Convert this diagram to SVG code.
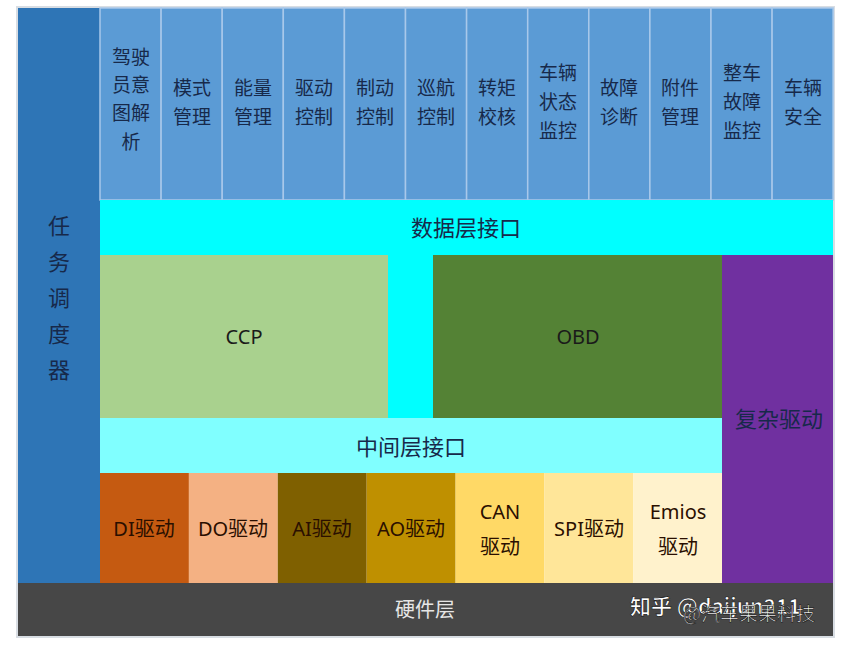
<svg xmlns="http://www.w3.org/2000/svg" width="853" height="645" viewBox="0 0 853 645">
<style>
.t{font-family:"Noto Sans","Noto Sans CJK SC",sans-serif;text-anchor:middle;dominant-baseline:central}
.top{font-size:19px;fill:#17294a}
.big{font-size:22px;fill:#17294a}
.mid{font-size:20px;fill:#1a1a1a}
.drv{font-size:20px;fill:#2a0f00}
.cell{stroke:#a8c8ea;stroke-width:1.5}
.wm{font-family:"Noto Sans CJK SC",sans-serif;fill:#ffffff;stroke:#1a1a1a;stroke-width:0.7;font-weight:bold}
</style>
<rect x="0" y="0" width="853" height="645" fill="#ffffff"/>
<rect x="17" y="7" width="817" height="630" fill="none" stroke="#d8dde3" stroke-width="2"/>
<g id="scheduler">
<rect x="18" y="8" width="82" height="575" fill="#2e75b6"/>
<text class="t big" x="59" y="225">任</text>
<text class="t big" x="59" y="261">务</text>
<text class="t big" x="59" y="297">调</text>
<text class="t big" x="59" y="333">度</text>
<text class="t big" x="59" y="369">器</text>
</g>
<g id="apps">
<g id="app1"><rect class="cell" x="100" y="8" width="61.1" height="192" fill="#5b9bd5"/>
<text class="t top" x="131" y="57">驾驶</text><text class="t top" x="131" y="85">员意</text><text class="t top" x="131" y="113">图解</text><text class="t top" x="131" y="142">析</text></g>
<g id="app2"><rect class="cell" x="161.1" y="8" width="61.1" height="192" fill="#5b9bd5"/>
<text class="t top" x="192" y="88">模式</text><text class="t top" x="192" y="117">管理</text></g>
<g id="app3"><rect class="cell" x="222.2" y="8" width="61.1" height="192" fill="#5b9bd5"/>
<text class="t top" x="253" y="88">能量</text><text class="t top" x="253" y="117">管理</text></g>
<g id="app4"><rect class="cell" x="283.3" y="8" width="61.1" height="192" fill="#5b9bd5"/>
<text class="t top" x="314" y="88">驱动</text><text class="t top" x="314" y="117">控制</text></g>
<g id="app5"><rect class="cell" x="344.4" y="8" width="61.1" height="192" fill="#5b9bd5"/>
<text class="t top" x="375" y="88">制动</text><text class="t top" x="375" y="117">控制</text></g>
<g id="app6"><rect class="cell" x="405.5" y="8" width="61.1" height="192" fill="#5b9bd5"/>
<text class="t top" x="436" y="88">巡航</text><text class="t top" x="436" y="117">控制</text></g>
<g id="app7"><rect class="cell" x="466.6" y="8" width="61.1" height="192" fill="#5b9bd5"/>
<text class="t top" x="497" y="88">转矩</text><text class="t top" x="497" y="117">校核</text></g>
<g id="app8"><rect class="cell" x="527.7" y="8" width="61.1" height="192" fill="#5b9bd5"/>
<text class="t top" x="558" y="73">车辆</text><text class="t top" x="558" y="102">状态</text><text class="t top" x="558" y="131">监控</text></g>
<g id="app9"><rect class="cell" x="588.8" y="8" width="61.1" height="192" fill="#5b9bd5"/>
<text class="t top" x="619" y="88">故障</text><text class="t top" x="619" y="117">诊断</text></g>
<g id="app10"><rect class="cell" x="649.9" y="8" width="61.1" height="192" fill="#5b9bd5"/>
<text class="t top" x="680" y="88">附件</text><text class="t top" x="680" y="117">管理</text></g>
<g id="app11"><rect class="cell" x="711" y="8" width="61.1" height="192" fill="#5b9bd5"/>
<text class="t top" x="742" y="73">整车</text><text class="t top" x="742" y="102">故障</text><text class="t top" x="742" y="131">监控</text></g>
<g id="app12"><rect class="cell" x="772.1" y="8" width="61" height="192" fill="#5b9bd5"/>
<text class="t top" x="803" y="88">车辆</text><text class="t top" x="803" y="117">安全</text></g>
</g>
<g id="data-interface">
<rect x="100" y="200" width="733" height="55" fill="#00ffff"/>
<rect x="388" y="255" width="45" height="163" fill="#00ffff"/>
<text class="t big" x="466" y="227">数据层接口</text>
</g>
<g id="ccp">
<rect x="100" y="255" width="288" height="163" fill="#a9d18e"/>
<text class="t mid" x="244" y="336">CCP</text>
</g>
<g id="obd">
<rect x="433" y="255" width="289" height="163" fill="#548235"/>
<text class="t mid" x="578" y="336">OBD</text>
</g>
<g id="complex-driver">
<rect x="722" y="255" width="111" height="328" fill="#7030a0"/>
<text class="t big" x="779" y="418">复杂驱动</text>
</g>
<g id="middle-interface">
<rect x="100" y="418" width="622" height="55" fill="#80ffff"/>
<text class="t big" x="411" y="446">中间层接口</text>
</g>
<g id="drivers">
<g id="di"><rect x="100" y="473" width="88.9" height="110" fill="#c55a11"/><text class="t drv" x="144" y="528">DI驱动</text></g>
<g id="do"><rect x="188.9" y="473" width="88.9" height="110" fill="#f4b183"/><text class="t drv" x="233" y="528">DO驱动</text></g>
<g id="ai"><rect x="277.8" y="473" width="88.9" height="110" fill="#7f6000"/><text class="t drv" x="322" y="528">AI驱动</text></g>
<g id="ao"><rect x="366.7" y="473" width="88.9" height="110" fill="#bf9000"/><text class="t drv" x="411" y="528">AO驱动</text></g>
<g id="can"><rect x="455.6" y="473" width="88.9" height="110" fill="#ffd966"/><text class="t drv" x="500" y="511">CAN</text><text class="t drv" x="500" y="546">驱动</text></g>
<g id="spi"><rect x="544.5" y="473" width="88.9" height="110" fill="#ffe699"/><text class="t drv" x="589" y="528">SPI驱动</text></g>
<g id="emios"><rect x="633.4" y="473" width="88.6" height="110" fill="#fff2cc"/><text class="t drv" x="678" y="511">Emios</text><text class="t drv" x="678" y="546">驱动</text></g>
</g>
<g id="hardware">
<rect x="18" y="583" width="815" height="53" fill="#474747"/>
<text class="t" x="425" y="609" style="font-size:20px;fill:#e6e6e6">硬件层</text>
</g>
<g id="watermark">
<text class="wm" x="630" y="614" style="font-size:21px">知乎 @daijun211</text>
<text class="wm" x="683" y="621" style="font-size:19px;font-weight:normal">@汽车果果科技</text>
</g>
</svg>
